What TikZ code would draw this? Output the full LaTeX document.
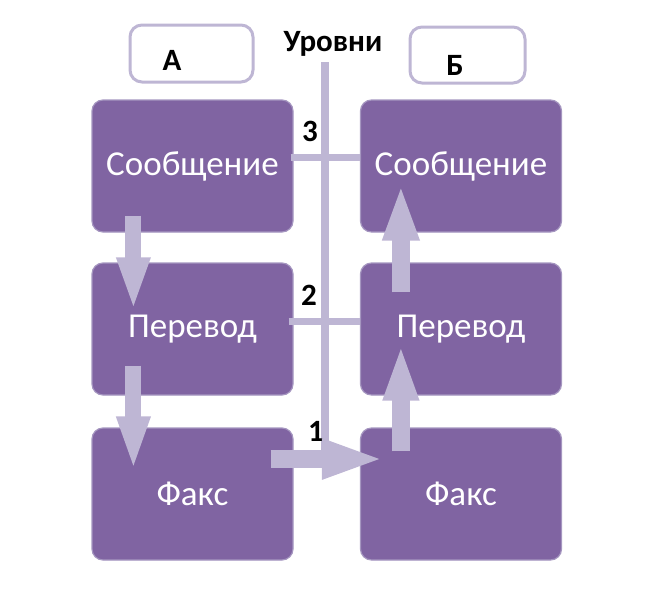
\documentclass[tikz,border=0pt]{standalone}
\usepackage{fontspec}
\setmainfont{Carlito}
\usetikzlibrary{arrows.meta,calc}
\definecolor{boxfill}{HTML}{8064A2}
\definecolor{boxedge}{HTML}{A596C0}
\definecolor{lav}{HTML}{BEB6D4}
\tikzset{
  stepbox/.style={draw=boxedge, line width=1.2pt, fill=boxfill, rounded corners=11pt,
    minimum width=201pt, minimum height=132pt, inner sep=0pt, text=white,
    font=\fontsize{35}{40}\selectfont},
  labelbox/.style={draw=lav, line width=3pt, fill=white, rounded corners=12pt, inner sep=0pt},
  boldlabel/.style={font=\bfseries\fontsize{31}{36}\selectfont, text=black, inner sep=0pt},
  levelline/.style={draw=lav, line width=7pt},
  blockarrow/.style={draw=lav, line width=#1},
}
\begin{document}
\begin{tikzpicture}[x=1pt,y=-1pt]
\useasboundingbox (0,0) rectangle (658,597);
% column A
\node[stepbox] (s1) at (192.5,166) {Сообщение};
\node[stepbox] (p1) at (192.5,329) {Перевод};
\node[stepbox] (f1) at (192.5,494) {Факс};
% column B
\node[stepbox] (s2) at (461,166) {Сообщение};
\node[stepbox] (p2) at (461,329) {Перевод};
\node[stepbox] (f2) at (461,494) {Факс};
% header boxes
\node[labelbox, minimum width=123pt, minimum height=57pt] (la) at (191.5,53.5) {};
\node[labelbox, minimum width=115pt, minimum height=56pt] (lb) at (467.5,55) {};
\node[boldlabel] (ta) at (172,60) {А};
\node[boldlabel] (tb) at (455,65) {Б};
\node[boldlabel] (lev) at (333,44) {Уровни};
% level axis
\coordinate (vtop) at (325,62);
\coordinate (vbot) at (325,462);
\draw[draw=lav, line width=8pt] (vtop) -- (vbot);
\draw[levelline] ($(s1.east)+(-3,-9)$) -- ($(s2.west)+(0,-9)$);
\draw[levelline] ($(p1.east)+(-5,-8)$) -- ($(p2.west)+(0,-8)$);
\node[boldlabel] (n3) at (310,131) {3};
\node[boldlabel] (n2) at (309,295) {2};
\node[boldlabel] (n1) at (316,431) {1};
% block arrows
\draw[blockarrow=16pt, -{Triangle[length=54pt,width=30pt]}]
  ($(s1.south west)+(42,-17)$) -- ($(p1.north west)+(42,49)$);
\draw[blockarrow=16pt, -{Triangle[length=55pt,width=30pt]}]
  ($(p1.south west)+(42,-30)$) -- ($(f1.north west)+(42,44)$);
\draw[blockarrow=18pt, -{Triangle[length=63pt,width=36pt]}]
  ($(f1.east)+(-23,-35)$) -- ($(f2.west)+(25,-35)$);
\draw[blockarrow=18pt, -{Triangle[length=57pt,width=32pt]}]
  ($(f2.north west)+(41,24)$) -- ($(p2.south west)+(41,-52)$);
\draw[blockarrow=18pt, -{Triangle[length=57pt,width=33pt]}]
  ($(p2.north west)+(41,30)$) -- ($(s2.south west)+(41,-49)$);
\end{tikzpicture}
\end{document}
